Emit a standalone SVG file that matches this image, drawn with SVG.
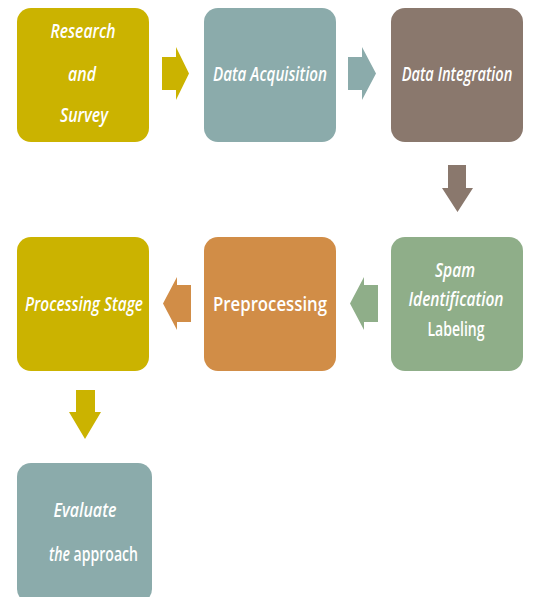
<svg xmlns="http://www.w3.org/2000/svg" width="533" height="597" viewBox="0 0 533 597">
<style>
.box{stroke:none}
.t{font-family:"Open Sans","Liberation Sans",sans-serif;font-size:19px;fill:#ffffff;text-anchor:middle;font-weight:600}
.i{font-style:italic}
</style>
<rect width="533" height="597" fill="#ffffff"/>
<g id="connectors">
<polygon points="162,57 176,57 176,47 189,73.5 176,100 176,90 162,90" fill="#CBB300"/>
<polygon points="348,57 362,57 362,47 376,73.5 362,100 362,90 348,90" fill="#8BABAB"/>
<polygon points="448,165 466,165 466,188 473,188 457.5,212 442,188 448,188" fill="#8A786D"/>
<polygon points="378,285 364,285 364,277 350,303.5 364,330 364,322 378,322" fill="#8FAE89"/>
<polygon points="191,285 177,285 177,277 163,303.5 177,330 177,322 191,322" fill="#D18D47"/>
<polygon points="76,390 95,390 95,412 101,412 85,439 69,412 76,412" fill="#CBB300"/>
</g>
<g id="n1"><rect class="box" x="17" y="8" width="132" height="134" rx="14" fill="#CBB300"/>
<text class="t i" x="83" y="38" textLength="65" lengthAdjust="spacingAndGlyphs">Research</text>
<text class="t i" x="82" y="81" textLength="28" lengthAdjust="spacingAndGlyphs">and</text>
<text class="t i" x="84" y="122" textLength="48" lengthAdjust="spacingAndGlyphs">Survey</text></g>
<g id="n2"><rect class="box" x="204" y="8" width="132" height="134" rx="14" fill="#8BABAB"/>
<text class="t i" x="270" y="81" textLength="114" lengthAdjust="spacingAndGlyphs">Data Acquisition</text></g>
<g id="n3"><rect class="box" x="391" y="8" width="132" height="134" rx="14" fill="#8A786D"/>
<text class="t i" transform="translate(457,81) scale(0.77,1)" x="0" y="0">Data Integration</text></g>
<g id="n4"><rect class="box" x="391" y="237" width="132" height="134" rx="14" fill="#8FAE89"/>
<text class="t i" x="455" y="277" textLength="40" lengthAdjust="spacingAndGlyphs">Spam</text>
<text class="t i" x="456" y="306" textLength="95" lengthAdjust="spacingAndGlyphs">Identification</text>
<text class="t" x="456" y="336" textLength="57" lengthAdjust="spacingAndGlyphs">Labeling</text></g>
<g id="n5"><rect class="box" x="204" y="237" width="132" height="134" rx="14" fill="#D18D47"/>
<text class="t" x="270" y="311" font-size="21" textLength="114" lengthAdjust="spacingAndGlyphs">Preprocessing</text></g>
<g id="n6"><rect class="box" x="17" y="237" width="132" height="134" rx="14" fill="#CBB300"/>
<text class="t i" x="84" y="311" textLength="118" lengthAdjust="spacingAndGlyphs">Processing Stage</text></g>
<g id="n7"><rect class="box" x="17" y="463" width="135" height="140" rx="14" fill="#8BABAB"/>
<text class="t i" x="85" y="517" textLength="63" lengthAdjust="spacingAndGlyphs">Evaluate</text>
<text class="t" transform="translate(93.5,561) scale(0.74,1)" x="0" y="0" font-size="18"><tspan class="i">the</tspan> approach</text></g>
</svg>
